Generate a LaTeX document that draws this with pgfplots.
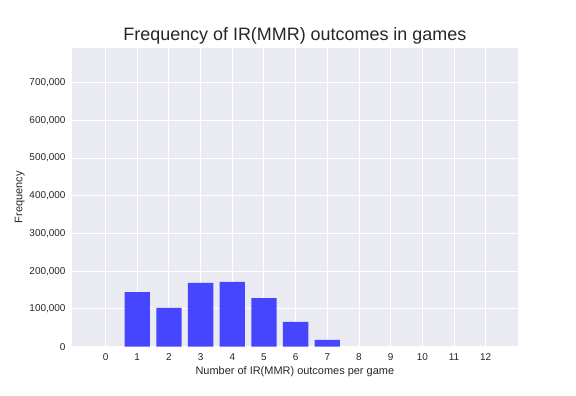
\documentclass[border=0pt]{standalone}
\usepackage{pgfplots}
\pgfplotsset{compat=1.18}
\usepackage{fontspec}
\setmainfont{Liberation Sans}
\definecolor{bgc}{HTML}{EAEAF2}
\definecolor{txt}{HTML}{262626}
\definecolor{barc}{HTML}{4646FF}
\begin{document}
\begin{tikzpicture}
\path[use as bounding box] (0,0) rectangle (576bp,396bp);
\begin{axis}[
  at={(72bp,49.3bp)}, anchor=south west,
  scale only axis,
  width=445.7bp, height=298.7bp,
  xmin=-1.06, xmax=13.01,
  ymin=0, ymax=792000,
  axis background/.style={fill=bgc},
  axis line style={draw=none},
  major tick length=0pt,
  xtick={0,...,12},
  ytick={0,100000,...,700000},
  scaled y ticks=false,
  /pgf/number format/.cd, fixed, 1000 sep={,}, assume math mode=true,
  /pgfplots/.cd,
  grid=major,
  major grid style={white, line width=1bp},
  ticklabel style={font=\fontsize{10}{12}\selectfont, text=txt},
  xticklabel style={yshift=-3bp},
  yticklabel style={xshift=-3bp},
  xlabel={Number of IR(MMR) outcomes per game},
  ylabel={Frequency},
  label style={font=\fontsize{11}{13}\selectfont, text=txt},
  xlabel style={yshift=1bp},
  ylabel style={yshift=-2bp},
  title={Frequency of IR(MMR) outcomes in games},
  title style={font=\fontsize{18}{21}\selectfont, text=txt, yshift=-6bp},
]
\addplot[ybar, bar width=0.8, fill=barc, draw=none, bar shift=0] coordinates {
(1,145000) (2,103000) (3,169000) (4,172000) (5,129000) (6,65500) (7,17800)};
\end{axis}
\end{tikzpicture}
\end{document}
